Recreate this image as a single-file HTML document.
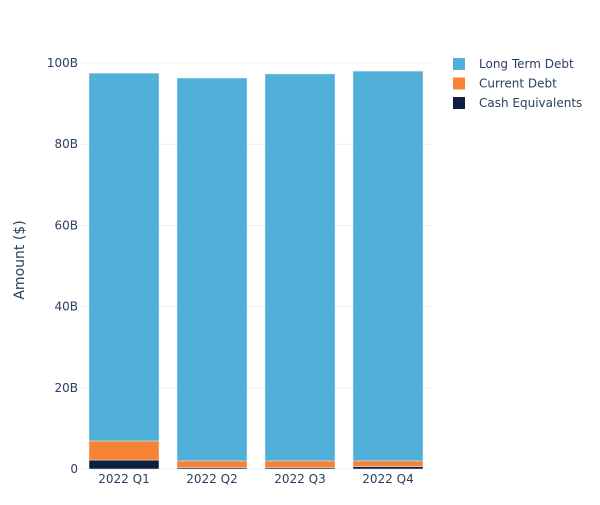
<!DOCTYPE html>
<html><head><meta charset="utf-8"><style>
body{margin:0;background:#fff;}
svg{font-family:"DejaVu Sans","Liberation Sans",sans-serif;}
</style></head><body>
<svg id="chart" width="600" height="500"></svg>
<script>
const categories=["2022 Q1","2022 Q2","2022 Q3","2022 Q4"];
const cashEquivalents=[2.2,0.3,0.3,0.6];
const currentDebt=[4.7,1.7,1.7,1.4];
const longTermDebt=[90.6,94.3,95.3,96.0];
const yTicks=[0,20,40,60,80,100];
const yTickLabels=["0","20B","40B","60B","80B","100B"];
const NS="http://www.w3.org/2000/svg";
const svg=document.getElementById('chart');
const x0=80,x1=432,yBase=469,yTop=63;
const y=v=>yBase-(v/100)*(yBase-yTop);
const band=(x1-x0)/categories.length, bw=70;
const xc=i=>x0+band*(i+0.5);
function el(t,a){const e=document.createElementNS(NS,t);for(const k in a)e.setAttribute(k,a[k]);svg.appendChild(e);return e;}
yTicks.forEach((t,i)=>{
  const g=el('line',{x1:x0,x2:x1,y1:y(t),y2:y(t),stroke:'#ebf0f8','stroke-width':1});
  
  
  const tx=el('text',{x:x0-2,y:y(t)+4,'text-anchor':'end','font-size':12,fill:'#2a3f5f'});
  tx.textContent=yTickLabels[i];
  
  
});
const series=[[cashEquivalents,'#0d2040','cash'],[currentDebt,'#f58235','current-debt'],[longTermDebt,'#50b0d8','long-term-debt']];
categories.forEach((c,i)=>{
  let acc=0;
  series.forEach(([vals,col,nm])=>{
    const v=vals[i];
    const r=el('rect',{x:xc(i)-bw/2,y:y(acc+v),width:bw,height:y(acc)-y(acc+v),fill:col,stroke:'#e8ecf2','stroke-width':0.5});
    
    
    acc+=v;
  });
  const t=el('text',{x:xc(i),y:yBase+14,'text-anchor':'middle','font-size':12,fill:'#2a3f5f'});
  t.textContent=c;
  
  
});
const yt=el('text',{x:24,y:260,'text-anchor':'middle','font-size':14,fill:'#2a3f5f',transform:'rotate(-90 24 260)'});
yt.textContent='Amount ($)';


const legend=[['Long Term Debt','#50b0d8'],['Current Debt','#f58235'],['Cash Equivalents','#0d2040']];
legend.forEach(([n,c],i)=>{
  const yy=64+i*19.5;
  const r=el('rect',{x:453,y:yy-6,width:12,height:12,fill:c});
  
  
  const t=el('text',{x:479,y:yy+4,'font-size':12,fill:'#2a3f5f'});
  t.textContent=n;
  
  
});
</script>
</body></html>
